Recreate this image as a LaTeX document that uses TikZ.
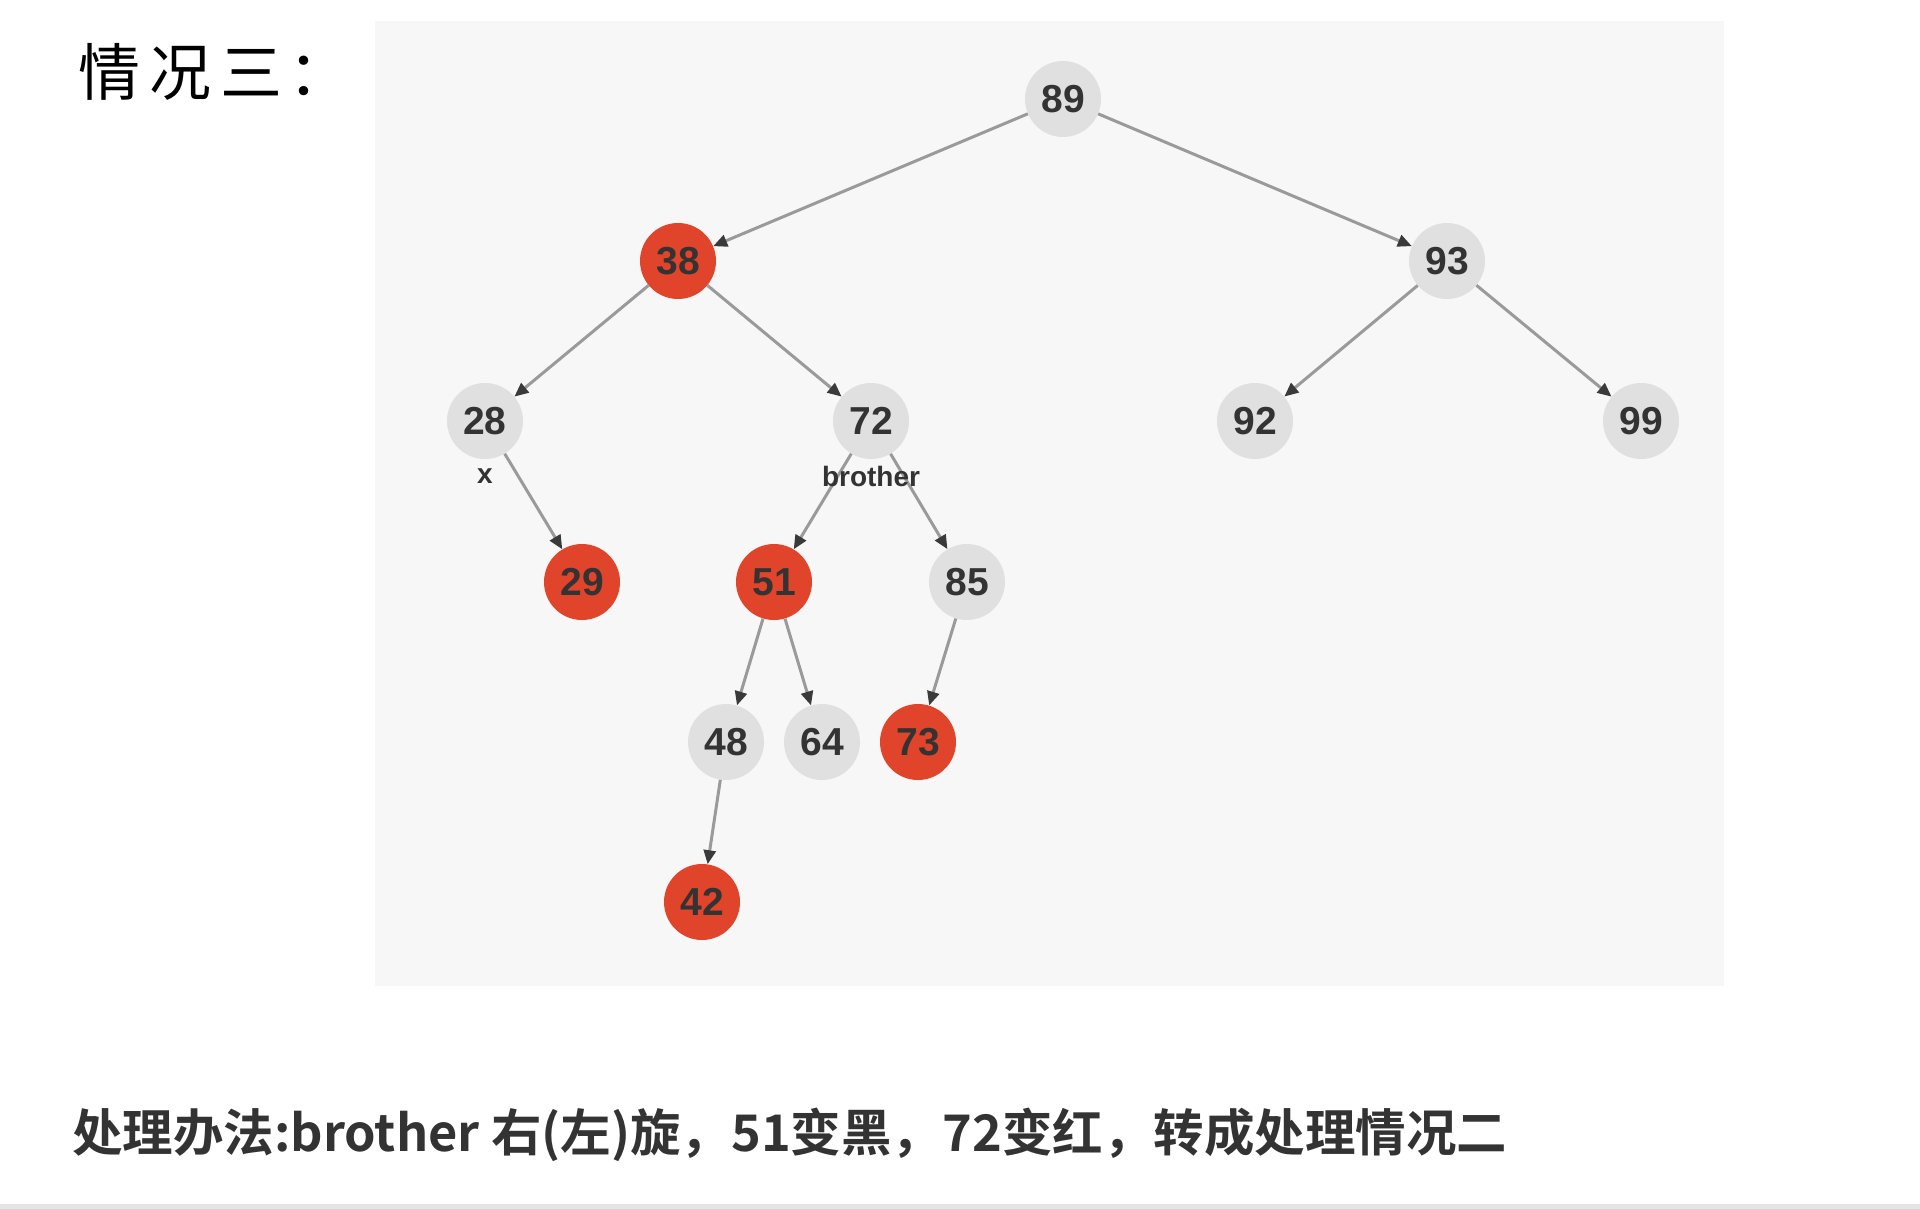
\documentclass[tikz,border=0pt]{standalone}
\usepackage{fontspec}
\setmainfont{Liberation Sans}
\newfontfamily\cjk{Noto Sans CJK SC}
\newfontfamily\cjkbold{Noto Sans CJK SC Bold}
\usetikzlibrary{arrows.meta}
\definecolor{panelbg}{HTML}{F7F7F7}
\definecolor{blacknode}{HTML}{E0E0E0}
\definecolor{rednode}{HTML}{E0442A}
\definecolor{numtext}{HTML}{333333}
\definecolor{edgegray}{HTML}{9A9A9A}
\definecolor{tipgray}{HTML}{3A3A3A}
\tikzset{
  x=1pt, y=-1pt,
  tnode/.style={circle, minimum size=76pt, inner sep=0pt, text=numtext,
    font=\fontsize{39}{40}\selectfont\bfseries},
  bnode/.style={tnode, fill=blacknode},
  rnode/.style={tnode, fill=rednode},
  tag/.style={text=numtext, font=\fontsize{28}{30}\selectfont\bfseries, inner sep=0pt},
  edge/.style={draw=edgegray, line width=3pt,
    -{Triangle[length=14pt,width=12pt,color=tipgray]}}
}
\begin{document}
\begin{tikzpicture}
\useasboundingbox[fill=white] (0,0) rectangle (1920,1209);
% panel behind the tree
\fill[panelbg] (375,21) rectangle (1724,986);
% thin rule at the bottom edge
\fill[black!10] (0,1204) rectangle (1920,1209);

% title and caption
\node[anchor=west, inner sep=0pt, font=\cjk\fontsize{62}{66}\selectfont] (title) at (78,72)
  {情\hspace{9pt}况\hspace{9pt}三\hspace{6pt}：};
\node[anchor=west, inner sep=0pt, text=numtext, font=\cjkbold\fontsize{50.5}{56}\selectfont] (caption) at (72,1135)
  {处理办法:brother 右(左)旋，51变黑，72变红，转成处理情况二};

% tree nodes
\node[bnode] (n89) at (1063,99) {89};
\node[rnode] (n38) at (678,261) {38};
\node[bnode] (n93) at (1447,261) {93};
\node[bnode] (n28) at (485,421) {28};
\node[bnode] (n72) at (871,421) {72};
\node[bnode] (n92) at (1255,421) {92};
\node[bnode] (n99) at (1641,421) {99};
\node[rnode] (n29) at (582,582) {29};
\node[rnode] (n51) at (774,582) {51};
\node[bnode] (n85) at (967,582) {85};
\node[bnode] (n48) at (726,742) {48};
\node[bnode] (n64) at (822,742) {64};
\node[rnode] (n73) at (918,742) {73};
\node[rnode] (n42) at (702,902) {42};

% edges
\draw[edge] (n89) -- (n38);
\draw[edge] (n89) -- (n93);
\draw[edge] (n38) -- (n28);
\draw[edge] (n38) -- (n72);
\draw[edge] (n93) -- (n92);
\draw[edge] (n93) -- (n99);
\draw[edge] (n28) -- (n29);
\draw[edge] (n72) -- (n51);
\draw[edge] (n72) -- (n85);
\draw[edge] (n51) -- (n48);
\draw[edge] (n51) -- (n64);
\draw[edge] (n85) -- (n73);
\draw[edge] (n48) -- (n42);

% role labels
\node[tag] (lx) at (485,476) {x};
\node[tag] (lbro) at (871,476) {brother};
\end{tikzpicture}
\end{document}
